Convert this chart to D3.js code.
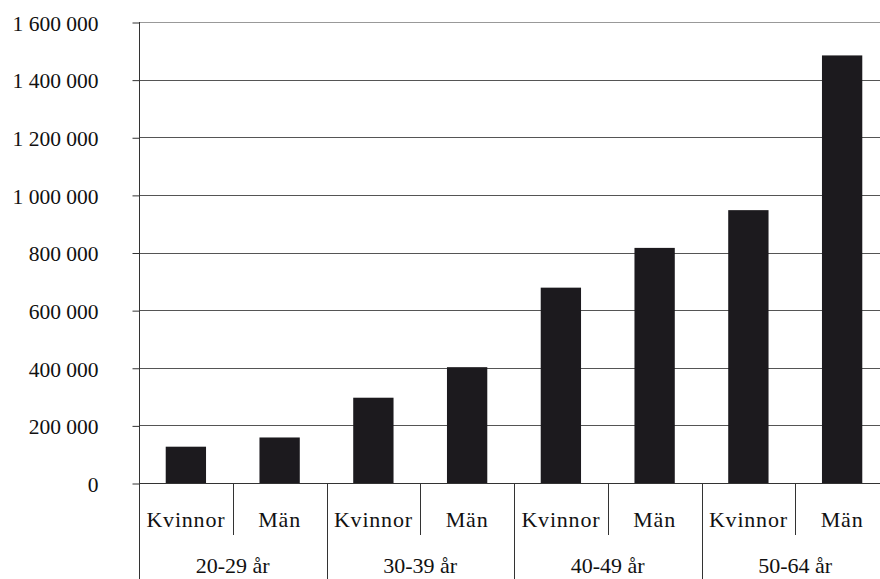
<!DOCTYPE html>
<html>
<head>
<meta charset="utf-8">
<script src="https://cdn.jsdelivr.net/npm/d3@7"></script>
<style>
  html, body { margin: 0; padding: 0; background: #fff; }
</style>
</head>
<body>
<svg id="chart" width="880" height="579"></svg>
<script>
const groups = ["20-29 år", "30-39 år", "40-49 år", "50-64 år"];
const genders = ["Kvinnor", "Män"];
const values = [126000, 158000, 296000, 402000, 678000, 816000, 947000, 1484000];
const yTicks = [0, 200000, 400000, 600000, 800000, 1000000, 1200000, 1400000, 1600000];

(function () {
const FONT = "Liberation Serif";
const data = [];
groups.forEach((g, gi) => genders.forEach((s, si) => {
  data.push({ key: g + "|" + s, group: g, gender: s, value: values[gi * 2 + si] });
}));

const svg = d3.select("#chart");
const pLeft = 139, pRight = 889, pTop = 22, pBottom = 483;

const x = d3.scaleBand().domain(data.map(d => d.key)).range([pLeft, pRight])
  .paddingInner(0.57).paddingOuter(0.285);
const xg = d3.scaleBand().domain(groups).range([pLeft, pRight]).padding(0);
const y = d3.scaleLinear().domain([0, 1600000]).range([pBottom, pTop]);

const fmt = v => d3.format(",")(v).replace(/,/g, " ");

// gridlines
svg.append("g").selectAll("line").data(yTicks.filter(t => t > 0)).join("line")
  .attr("x1", pLeft).attr("x2", 880)
  .attr("y1", d => Math.round(y(d)) + 0.5).attr("y2", d => Math.round(y(d)) + 0.5)
  .attr("stroke", d => d === 1600000 ? "#999" : "#555").attr("stroke-width", 1);

// bars
svg.append("g").selectAll("rect").data(data).join("rect")
  .attr("x", d => x(d.key)).attr("width", x.bandwidth())
  .attr("y", d => y(d.value)).attr("height", d => y(0) - y(d.value))
  .attr("fill", "#1c1a1e");

// y axis
const yAxis = d3.axisLeft(y).tickValues(yTicks).tickSize(7).tickPadding(34).tickFormat(fmt);
const gy = svg.append("g").attr("transform", `translate(${pLeft + 0.5},0.5)`).call(yAxis);
gy.select(".domain").remove();
gy.selectAll(".tick line").attr("stroke", "#333");
gy.selectAll(".tick text").attr("dy", "0.36em").attr("fill", "#111")
  .style("font-family", FONT).style("font-size", "21.5px");

// axis lines
svg.append("line").attr("x1", pLeft + 0.5).attr("x2", pLeft + 0.5).attr("y1", pTop).attr("y2", 579)
  .attr("stroke", "#333");
svg.append("line").attr("x1", pLeft).attr("x2", 880).attr("y1", pBottom + 0.5).attr("y2", pBottom + 0.5)
  .attr("stroke", "#333");

// group dividers
svg.append("g").selectAll("line").data(groups.slice(1)).join("line")
  .attr("x1", d => Math.round(xg(d)) + 0.5).attr("x2", d => Math.round(xg(d)) + 0.5)
  .attr("y1", pBottom).attr("y2", 579).attr("stroke", "#333");

// sub dividers
svg.append("g").selectAll("line").data(groups).join("line")
  .attr("x1", d => Math.round(xg(d) + xg.bandwidth() / 2) + 0.5)
  .attr("x2", d => Math.round(xg(d) + xg.bandwidth() / 2) + 0.5)
  .attr("y1", pBottom).attr("y2", 535).attr("stroke", "#333");

// sub labels
svg.append("g").selectAll("text").data(data).join("text")
  .attr("x", d => x(d.key) + x.bandwidth() / 2).attr("y", 527)
  .attr("text-anchor", "middle").attr("fill", "#111")
  .style("font-family", FONT).style("font-size", "22px").style("letter-spacing", "0.8px")
  .text(d => d.gender);

// group labels
svg.append("g").selectAll("text").data(groups).join("text")
  .attr("x", d => xg(d) + xg.bandwidth() / 2).attr("y", 573)
  .attr("text-anchor", "middle").attr("fill", "#111")
  .style("font-family", FONT).style("font-size", "22px")
  .text(d => d);
})();
</script>
</body>
</html>
